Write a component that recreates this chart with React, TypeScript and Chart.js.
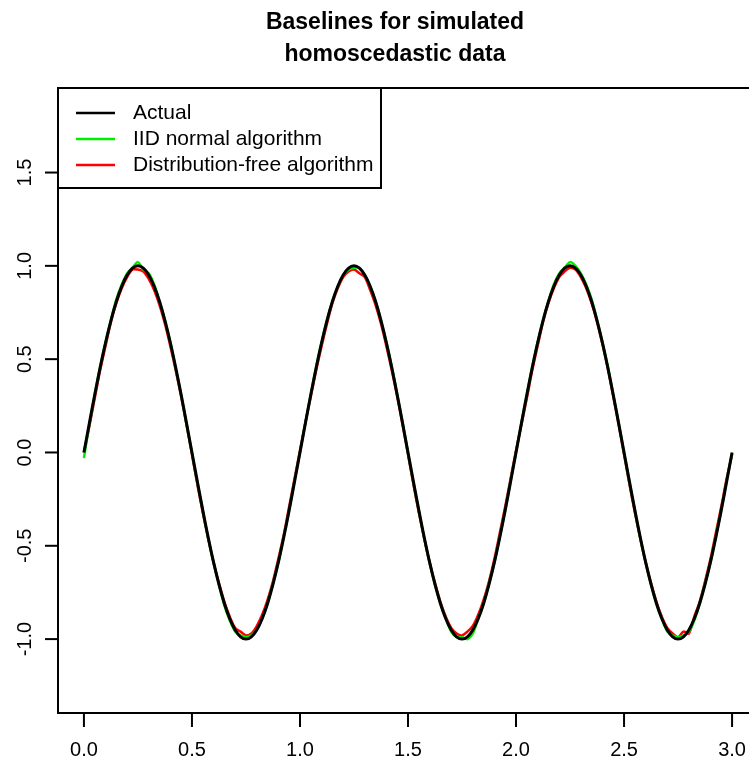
import React, { useEffect, useRef } from "react";
import { Chart, registerables } from "chart.js";

Chart.register(...registerables);

const TITLE_LINES = ["Baselines for simulated", "homoscedastic data"];
const SERIES_NAMES = ["Actual", "IID normal algorithm", "Distribution-free algorithm"];
const SERIES_COLORS = ["#000000", "#00ee00", "#ff0000"];
const X_TICKS = [0, 0.5, 1.0, 1.5, 2.0, 2.5, 3.0];
const Y_TICKS = [-1.0, -0.5, 0.0, 0.5, 1.0, 1.5];
const X_STEP = 0.025;

const actualValues = [
  0.0, 0.156, 0.309, 0.454, 0.588, 0.707, 0.809, 0.891, 0.951, 0.988, 1.0, 0.988, 0.951, 0.891, 0.809, 0.707, 0.588, 0.454, 0.309, 0.156,
  0.0, -0.156, -0.309, -0.454, -0.588, -0.707, -0.809, -0.891, -0.951, -0.988, -1.0, -0.988, -0.951, -0.891, -0.809, -0.707, -0.588, -0.454, -0.309, -0.156,
  0.0, 0.156, 0.309, 0.454, 0.588, 0.707, 0.809, 0.891, 0.951, 0.988, 1.0, 0.988, 0.951, 0.891, 0.809, 0.707, 0.588, 0.454, 0.309, 0.156,
  0.0, -0.156, -0.309, -0.454, -0.588, -0.707, -0.809, -0.891, -0.951, -0.988, -1.0, -0.988, -0.951, -0.891, -0.809, -0.707, -0.588, -0.454, -0.309, -0.156,
  0.0, 0.156, 0.309, 0.454, 0.588, 0.707, 0.809, 0.891, 0.951, 0.988, 1.0, 0.988, 0.951, 0.891, 0.809, 0.707, 0.588, 0.454, 0.309, 0.156,
  0.0, -0.156, -0.309, -0.454, -0.588, -0.707, -0.809, -0.891, -0.951, -0.988, -1.0, -0.988, -0.951, -0.891, -0.809, -0.707, -0.588, -0.454, -0.309, -0.156,
  0.0,
];

const iidValues = [
  -0.03, 0.15, 0.31, 0.46, 0.59, 0.71, 0.82, 0.9, 0.96, 0.99, 1.02, 0.98, 0.96, 0.9, 0.81, 0.71, 0.59, 0.45, 0.31, 0.15,
  0.0, -0.16, -0.31, -0.46, -0.59, -0.71, -0.82, -0.9, -0.96, -0.98, -0.99, -0.98, -0.95, -0.89, -0.81, -0.7, -0.59, -0.45, -0.31, -0.15,
  0.0, 0.16, 0.31, 0.46, 0.59, 0.71, 0.81, 0.89, 0.95, 0.98, 0.99, 0.99, 0.95, 0.89, 0.81, 0.71, 0.59, 0.46, 0.31, 0.16,
  0.0, -0.16, -0.31, -0.46, -0.59, -0.71, -0.81, -0.89, -0.96, -0.99, -0.99, -1.0, -0.97, -0.89, -0.81, -0.7, -0.59, -0.45, -0.31, -0.15,
  0.0, 0.16, 0.31, 0.46, 0.59, 0.71, 0.81, 0.9, 0.96, 0.99, 1.02, 1.0, 0.96, 0.9, 0.82, 0.71, 0.59, 0.46, 0.31, 0.16,
  0.0, -0.16, -0.31, -0.46, -0.59, -0.71, -0.81, -0.89, -0.96, -0.98, -0.99, -0.98, -0.96, -0.9, -0.81, -0.7, -0.59, -0.45, -0.31, -0.15,
  -0.01,
];

const distFreeValues = [
  0.0, 0.14, 0.29, 0.44, 0.57, 0.7, 0.8, 0.88, 0.94, 0.98, 0.98, 0.97, 0.93, 0.87, 0.79, 0.69, 0.57, 0.44, 0.3, 0.15,
  -0.01, -0.17, -0.32, -0.46, -0.59, -0.7, -0.8, -0.88, -0.94, -0.96, -0.98, -0.97, -0.93, -0.87, -0.79, -0.69, -0.57, -0.44, -0.29, -0.14,
  0.01, 0.16, 0.3, 0.44, 0.57, 0.69, 0.8, 0.88, 0.94, 0.97, 0.98, 0.96, 0.94, 0.87, 0.79, 0.69, 0.57, 0.44, 0.3, 0.15,
  -0.01, -0.17, -0.32, -0.46, -0.59, -0.7, -0.8, -0.88, -0.94, -0.97, -0.98, -0.96, -0.93, -0.87, -0.79, -0.69, -0.57, -0.43, -0.29, -0.14,
  0.01, 0.15, 0.29, 0.44, 0.57, 0.7, 0.8, 0.88, 0.94, 0.97, 0.99, 0.98, 0.94, 0.88, 0.8, 0.7, 0.58, 0.45, 0.3, 0.15,
  -0.01, -0.17, -0.32, -0.46, -0.59, -0.7, -0.8, -0.88, -0.94, -0.97, -0.99, -0.96, -0.97, -0.88, -0.8, -0.69, -0.57, -0.43, -0.29, -0.14,
  -0.01,
];

const FONT = '"Liberation Sans", Arial, Helvetica, sans-serif';

const toPoints = (vals: number[]) => vals.map((y, i) => ({ x: +(i * X_STEP).toFixed(3), y }));

const rStylePlugin = {
  id: "rStyle",
  afterDraw(chart: any) {
    const { ctx, chartArea } = chart;
    const xs = chart.scales.x;
    const ys = chart.scales.y;
    ctx.save();
    ctx.strokeStyle = "#000";
    ctx.fillStyle = "#000";
    ctx.lineWidth = 2;
    // box
    ctx.strokeRect(chartArea.left, chartArea.top, chartArea.right - chartArea.left, chartArea.bottom - chartArea.top);
    // x ticks
    ctx.font = `20px ${FONT}`;
    ctx.textAlign = "center";
    ctx.textBaseline = "middle";
    for (const v of X_TICKS) {
      const px = xs.getPixelForValue(v);
      ctx.beginPath();
      ctx.moveTo(px, chartArea.bottom);
      ctx.lineTo(px, chartArea.bottom + 14);
      ctx.stroke();
      ctx.fillText(v.toFixed(1), px, chartArea.bottom + 37);
    }
    // y ticks
    for (const v of Y_TICKS) {
      const py = ys.getPixelForValue(v);
      ctx.beginPath();
      ctx.moveTo(chartArea.left, py);
      ctx.lineTo(chartArea.left - 13, py);
      ctx.stroke();
      ctx.save();
      ctx.translate(chartArea.left - 33, py);
      ctx.rotate(-Math.PI / 2);
      ctx.fillText(v.toFixed(1), 0, 0);
      ctx.restore();
    }
    // title
    ctx.font = `bold 23px ${FONT}`;
    ctx.fillText(TITLE_LINES[0], 395, 23);
    ctx.fillText(TITLE_LINES[1], 395, 55);
    // legend
    const lx = chartArea.left;
    const ly = chartArea.top;
    const lw = 323;
    const lh = 100;
    ctx.fillStyle = "#fff";
    ctx.fillRect(lx, ly, lw, lh);
    ctx.strokeStyle = "#000";
    ctx.lineWidth = 2;
    ctx.strokeRect(lx, ly, lw, lh);
    ctx.font = `21px ${FONT}`;
    ctx.textAlign = "left";
    SERIES_NAMES.forEach((name, i) => {
      const cy = ly + 25 + i * 26;
      ctx.strokeStyle = SERIES_COLORS[i];
      ctx.lineWidth = 2.5;
      ctx.beginPath();
      ctx.moveTo(lx + 18, cy);
      ctx.lineTo(lx + 57, cy);
      ctx.stroke();
      ctx.fillStyle = "#000";
      ctx.fillText(name, lx + 75, cy);
    });
    ctx.restore();
  },
};

export default function App() {
  const ref = useRef<HTMLCanvasElement | null>(null);
  useEffect(() => {
    document.body.style.margin = "0";
    if (!ref.current) return;
    const chart = new Chart(ref.current, {
      type: "line",
      data: {
        datasets: [
          { label: SERIES_NAMES[0], data: toPoints(actualValues), borderColor: SERIES_COLORS[0], borderWidth: 3, pointRadius: 0, tension: 0.3, fill: false },
          { label: SERIES_NAMES[1], data: toPoints(iidValues), borderColor: SERIES_COLORS[1], borderWidth: 2.5, pointRadius: 0, tension: 0.3, fill: false },
          { label: SERIES_NAMES[2], data: toPoints(distFreeValues), borderColor: SERIES_COLORS[2], borderWidth: 2.5, pointRadius: 0, tension: 0.3, fill: false },
        ],
      },
      options: {
        animation: false,
        responsive: false,
        maintainAspectRatio: false,
        events: [],
        layout: { padding: { left: 58, top: 88, right: 42, bottom: 53 } },
        plugins: { legend: { display: false }, title: { display: false }, tooltip: { enabled: false } },
        scales: {
          x: { type: "linear", min: -0.12, max: 3.12, display: false },
          y: { type: "linear", min: -1.396, max: 1.953, display: false },
        },
      },
      plugins: [rStylePlugin],
    });
    return () => chart.destroy();
  }, []);
  return (
    <div style={{ width: 749, height: 766, overflow: "hidden", position: "relative", background: "#fff" }}>
      <canvas ref={ref} width={800} height={766} style={{ width: 800, height: 766, display: "block" }} />
    </div>
  );
}
